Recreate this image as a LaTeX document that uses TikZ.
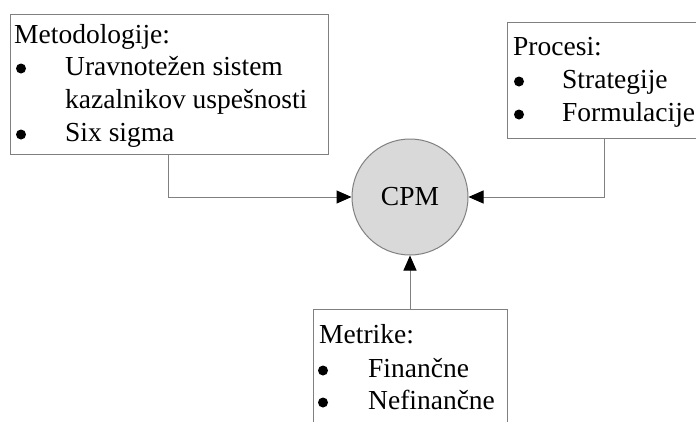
\documentclass[tikz,border=0pt]{standalone}
\usepackage{fontspec}
\setmainfont{Liberation Serif}
\usetikzlibrary{arrows.meta}
\definecolor{edgegray}{HTML}{808080}
\definecolor{hubfill}{HTML}{D9D9D9}
\tikzset{
  box/.style={draw=edgegray, line width=1pt, fill=white},
  txt/.style={anchor=base west, inner sep=0pt, font=\fontsize{27.5}{32}\selectfont},
  dot/.style={circle, fill=black, inner sep=0pt, minimum size=10pt},
  link/.style={draw=edgegray, line width=1pt, -{Triangle[length=15pt,width=13pt,color=black]}},
}
\begin{document}
\begin{tikzpicture}[x=1pt,y=-1pt]
\useasboundingbox (0,0) rectangle (696,421);
\clip (0,0) rectangle (696,421);
\fill[white] (0,0) rectangle (696,421);

% boxes
\draw[box] (10,14) rectangle (328,154);
\draw[box] (507,22) rectangle (720,138);
\draw[box] (313,309) rectangle (507,440);

% hub
\node[circle, draw=edgegray, line width=1pt, fill=hubfill, minimum size=116pt, inner sep=0pt,
      font=\fontsize{27.5}{32}\selectfont] (cpm) at (410,197) {CPM};

% methodology box
\node[txt] (m0) at (14,43) {Metodologije:};
\node[dot] (m1b) at (21,68.5) {};
\node[txt] (m1) at (65,75) {Uravnotežen sistem};
\node[txt] (m2) at (65,108) {kazalnikov uspešnosti};
\node[dot] (m3b) at (21,134.5) {};
\node[txt] (m3) at (65,141) {Six sigma};

% process box
\node[txt] (p0) at (513,55) {Procesi:};
\node[dot] (p1b) at (519,81.5) {};
\node[txt] (p1) at (562,88) {Strategije};
\node[dot] (p2b) at (519,114.5) {};
\node[txt] (p2) at (562,121) {Formulacije};

% metrics box
\node[txt] (k0) at (319,343) {Metrike:};
\node[dot] (k1b) at (323,370.5) {};
\node[txt] (k1) at (368,377) {Finančne};
\node[dot] (k2b) at (323,402.5) {};
\node[txt] (k2) at (368,409) {Nefinančne};

% connectors
\coordinate (lsrc) at (168,154);
\coordinate (rsrc) at (604,138);
\coordinate (bsrc) at (410,309);
\draw[link] (lsrc) |- (cpm.west);
\draw[link] (rsrc) |- (cpm.east);
\draw[link] (bsrc) -- (cpm.south);
\end{tikzpicture}
\end{document}
